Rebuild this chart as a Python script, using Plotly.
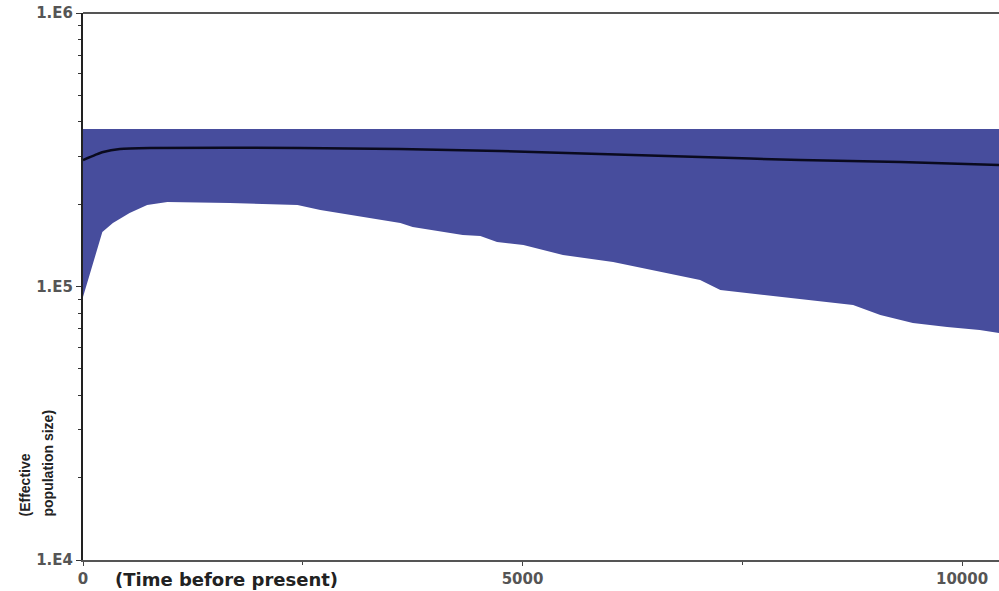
import plotly.graph_objects as go

# Time before present (years)
lower_times = [0, 220, 340, 530, 730, 960, 1670, 2440, 2700, 3190, 3610, 3750, 4320, 4520,
               4710, 5010, 5460, 6030, 6600, 7020, 7250, 7740, 8300, 8760, 9070, 9440,
               9830, 10200, 10420]
lower_hpd = [91500, 158200, 170700, 185700, 198600, 203700, 202000, 198600, 190400, 179600,
             170700, 165100, 154300, 153000, 145500, 141800, 130400, 122900, 113000, 105600,
             97100, 93100, 89200, 85600, 78700, 73550, 71100, 69300, 67600]

upper_times = [0, 10420]
upper_hpd = [376600, 376600]

median_times = [0, 140, 230, 420, 760, 2470, 3600, 4740, 5880, 7020, 8160, 9300, 10420]
median_ne = [290000, 302700, 310400, 318300, 321000, 321000, 318300, 312900, 305000,
             297500, 290000, 285200, 278200]

xticks = [0, 5000, 10000]
yticks = [1e4, 1e5, 1e6]
ytick_text = ["1.E4", "1.E5", "1.E6"]
yminor = [m * 10 ** e for e in (4, 5) for m in range(2, 10)]

fig = go.Figure()
fig.add_trace(go.Scatter(
    x=lower_times + upper_times[::-1],
    y=lower_hpd + upper_hpd[::-1],
    fill="toself", mode="lines", line=dict(width=0),
    fillcolor="#474d9d", hoverinfo="skip", showlegend=False))
fig.add_trace(go.Scatter(
    x=median_times, y=median_ne, mode="lines",
    line=dict(color="#0a0a1e", width=2.5, shape="spline", smoothing=0.6),
    showlegend=False))

fig.update_layout(
    width=999, height=591,
    margin=dict(l=83, r=0, t=13, b=31),
    paper_bgcolor="white", plot_bgcolor="white",
    font=dict(family="DejaVu Sans", size=15, color="#555555"),
)
fig.update_xaxes(
    range=[0, 10420], tickvals=xticks, ticktext=["<b>%d</b>" % v for v in xticks],
    showgrid=False, zeroline=False, showline=True, linecolor="#555555", linewidth=1.5,
    ticks="outside", ticklen=4, tickcolor="#444444",
    minor=dict(tickvals=[2500, 7500], ticks="outside", ticklen=3, tickcolor="#444444"),
    tickfont=dict(family="DejaVu Sans", size=15, color="#555555"),
)
fig.update_yaxes(
    type="log", range=[4, 6], tickvals=yticks, ticktext=["<b>%s</b>" % t for t in ytick_text],
    showgrid=False, zeroline=False, showline=True, linecolor="#222222", linewidth=2,
    ticks="outside", ticklen=5, tickcolor="#333333",
    minor=dict(tickvals=yminor, ticks="outside", ticklen=3, tickcolor="#333333"),
    tickfont=dict(family="DejaVu Sans", size=15, color="#555555"),
)
# top border line
fig.add_shape(type="line", xref="paper", yref="paper", x0=0, x1=1, y0=1, y1=1,
              line=dict(color="#555555", width=2))

fig.add_annotation(
    text="<b>(Time before present)</b>", xref="paper", yref="paper",
    x=30 / 916, y=0, yshift=-19, xanchor="left", yanchor="middle", showarrow=False,
    font=dict(family="DejaVu Sans", size=18, color="#222222"))
fig.add_annotation(
    text="<b>(Effective</b>", xref="paper", yref="paper",
    x=-59 / 916, xanchor="center", y=41 / 547, yanchor="bottom", textangle=-90,
    showarrow=False,
    font=dict(family="Liberation Sans Narrow, Liberation Sans", size=14, color="#222222"))
fig.add_annotation(
    text="<b>population size)</b>", xref="paper", yref="paper",
    x=-36 / 916, xanchor="center", y=41 / 547, yanchor="bottom", textangle=-90,
    showarrow=False,
    font=dict(family="Liberation Sans Narrow, Liberation Sans", size=14, color="#222222"))

fig.write_html("out.html", config={"displayModeBar": False},
               post_script="document.body.style.margin='0';")
